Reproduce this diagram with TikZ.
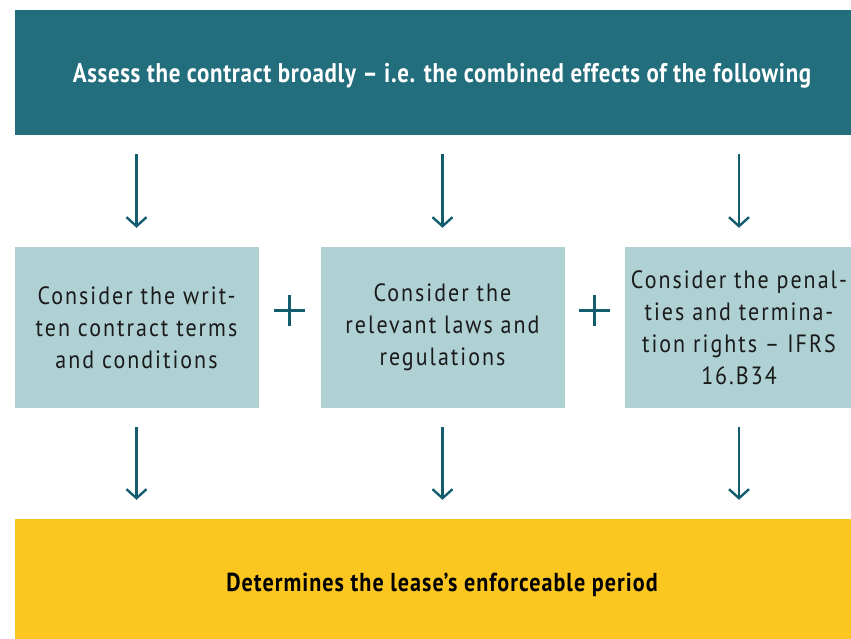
\documentclass[tikz,border=0pt]{standalone}
\usepackage{fontspec}
\setmainfont{PT Sans}
\newfontfamily\headfont[FakeStretch=0.85,LetterSpace=2.5]{PT Sans}
\newfontfamily\factorfont[FakeStretch=0.88,LetterSpace=8]{PT Sans}
\newfontfamily\resultfont[FakeStretch=0.85,LetterSpace=4]{PT Sans}
\usetikzlibrary{arrows.meta,calc}
\definecolor{tealdark}{HTML}{226E7C}
\definecolor{tealpale}{HTML}{AFD1D4}
\definecolor{sunyellow}{HTML}{FCC620}
\definecolor{arrowteal}{HTML}{135D6E}
\definecolor{inkdark}{HTML}{1A1A1A}
\begin{document}
\begin{tikzpicture}[x=1pt,y=-1pt,
  headbox/.style={fill=tealdark,text=white,minimum width=854pt,minimum height=125pt,inner sep=0pt,
    text height=19pt,text depth=0pt,font=\headfont\fontsize{27}{32}\selectfont\bfseries},
  factorbox/.style={fill=tealpale,text=inkdark,minimum width=244pt,minimum height=161pt,inner sep=0pt,
    align=center,font=\factorfont\fontsize{25}{32}\selectfont},
  resultbox/.style={fill=sunyellow,text=black,minimum width=854pt,minimum height=126pt,inner sep=0pt,
    text height=18pt,text depth=0pt,font=\resultfont\fontsize{26}{32}\selectfont\bfseries},
  flow/.style={draw=arrowteal,line width=2.4pt,-{Straight Barb[length=9pt,width=20pt,line width=2.4pt]},
    shorten <=19pt,shorten >=19pt},
  plusbar/.style={draw=arrowteal,line width=3pt}]
\useasboundingbox (0,0) rectangle (851,638);
\clip (0,0) rectangle (851,638);
\node[headbox] (top) at (442,72.5) {Assess the contract broadly – i.e. the combined effects of the following};
\node[factorbox] (f1) at (136.5,327.5) {Consider the writ-\\ten contract terms\\and conditions};
\node[factorbox] (f2) at (442.5,327.5) {Consider the\\relevant laws and\\regulations};
\node[factorbox,minimum width=228pt] (f3) at (739,327.5) {Consider the penal-\\ties and termina-\\tion rights – IFRS\\16.B34};
\node[resultbox] (res) at (442,582) {Determines the lease’s enforceable period};
\foreach \f in {f1,f2,f3}{
  \draw[flow] (top.south -| \f.north) -- (\f.north);
  \draw[flow] (\f.south) -- (res.north -| \f.south);
}
% plus signs between the factor boxes
\coordinate (p1) at ($(f1.east)!0.5!(f2.west)+(0,-17)$);
\coordinate (p2) at ($(f2.east)!0.5!(f3.west)+(0,-17)$);
\foreach \p in {p1,p2}{
  \draw[plusbar] ($(\p)+(-15.5,0)$) -- ($(\p)+(15.5,0)$);
  \draw[plusbar] ($(\p)+(0,-15.5)$) -- ($(\p)+(0,15.5)$);
}
\end{tikzpicture}
\end{document}
